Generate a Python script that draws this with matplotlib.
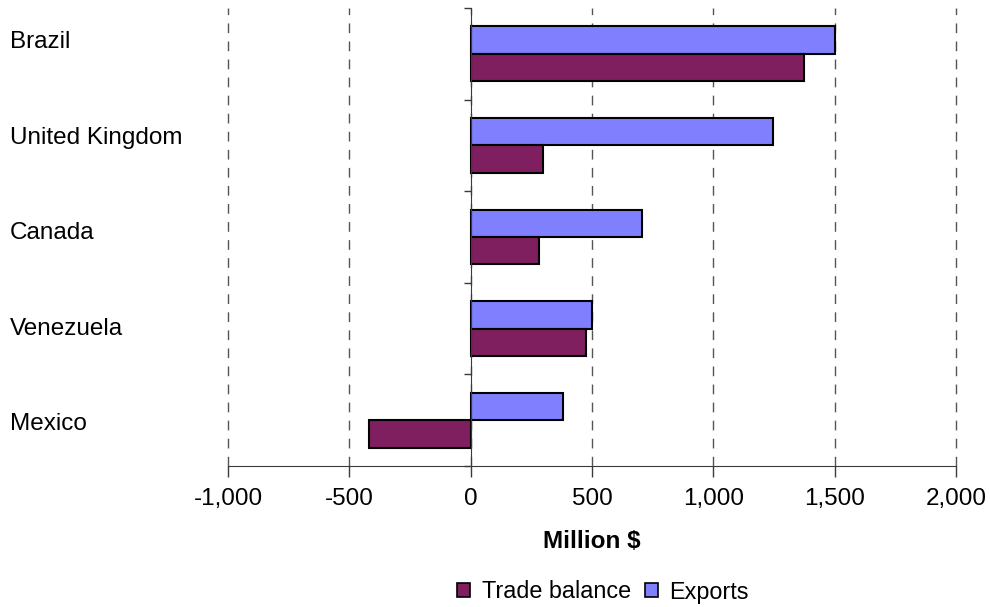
import numpy as np
import matplotlib
matplotlib.use("Agg")
import matplotlib.pyplot as plt
from matplotlib.patches import Patch
from matplotlib.ticker import FuncFormatter

plt.rcParams["font.family"] = ["Liberation Sans", "DejaVu Sans"]

countries = ["Brazil", "United Kingdom", "Canada", "Venezuela", "Mexico"]
exports = [1500, 1245, 705, 500, 380]
trade_balance = [1375, 300, 280, 475, -420]
x_ticks = [-1000, -500, 0, 500, 1000, 1500, 2000]

EXPORT_COLOR = "#8080FF"
BALANCE_COLOR = "#7F1F5F"
AXIS_COLOR = "#3a3a3a"
FS = 17.5
W, H = 990, 607

fig = plt.figure(figsize=(W / 100, H / 100), dpi=100)
ax = fig.add_axes([228 / W, 1 - 466 / H, 728 / W, 458 / H])

pos = np.arange(len(countries))
h = 0.3
ax.barh(pos - h / 2, exports, height=h, color=EXPORT_COLOR,
        edgecolor="black", linewidth=1.5, zorder=3)
ax.barh(pos + h / 2, trade_balance, height=h, color=BALANCE_COLOR,
        edgecolor="black", linewidth=1.5, zorder=3)

ax.set_xlim(x_ticks[0], x_ticks[-1])
ax.set_ylim(len(countries) - 0.5, -0.5)

# spines: value axis along the bottom, category axis through zero
for side in ("top", "right"):
    ax.spines[side].set_visible(False)
ax.spines["left"].set_position(("data", 0))
ax.spines["left"].set_color(AXIS_COLOR)
ax.spines["left"].set_zorder(4)
ax.spines["bottom"].set_color(AXIS_COLOR)

ax.set_xticks(x_ticks)
ax.xaxis.set_major_formatter(FuncFormatter(lambda v, p: f"{int(v):,}"))
ax.tick_params(axis="x", direction="out", length=8, width=1,
               color=AXIS_COLOR, pad=7.5, labelsize=FS)

ax.set_yticks(np.arange(-0.5, len(countries), 1.0))
ax.set_yticklabels([])
ax.tick_params(axis="y", direction="out", length=5, width=1, color=AXIS_COLOR)

ax.xaxis.grid(True, linestyle=(0, (7, 6)), color="#555555", linewidth=1, zorder=0)
ax.set_axisbelow(True)
for gl in ax.get_xgridlines():
    gl.set_clip_on(False)

# category names in a column at the left edge of the figure
label_top, label_step = 42, 95.6
for i, name in enumerate(countries):
    fig.text(10 / W, 1 - (label_top + i * label_step) / H, name,
             ha="left", va="center", fontsize=FS)

fig.text(592 / W, 1 - 541 / H, "Million $", ha="center", va="center",
         fontsize=FS, fontweight="bold")

handles = [
    Patch(facecolor=BALANCE_COLOR, edgecolor="black", linewidth=1.2),
    Patch(facecolor=EXPORT_COLOR, edgecolor="black", linewidth=1.2),
]
fig.legend(handles, ["Trade balance", "Exports"], loc="center",
           bbox_to_anchor=(603 / W, 1 - 592 / H), ncol=2, frameon=False,
           fontsize=16.8, handlelength=0.56, handleheight=0.56,
           handletextpad=0.5, columnspacing=0.6, borderpad=0)

fig.savefig("out.png", dpi=100)
